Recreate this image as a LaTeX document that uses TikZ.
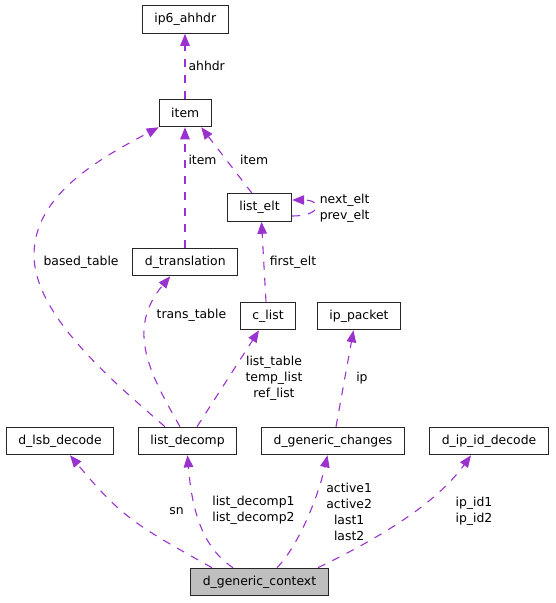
\documentclass[tikz,border=0pt]{standalone}
\usepackage{fontspec}
\setmainfont{DejaVu Sans}
\usetikzlibrary{arrows.meta,positioning}
\definecolor{relcol}{HTML}{9A32CD}
\definecolor{boxgray}{HTML}{BFBFBF}

\begin{document}
\begin{tikzpicture}[x=1pt,y=-1pt,on grid,
  cls/.style={draw=black!85,line width=1.1pt,minimum height=27.5pt,inner xsep=12pt,font=\fontsize{12.4}{16}\selectfont},
  rel/.style={draw=relcol,line width=1.1pt,dash pattern=on 8pt off 8pt,-{Triangle[length=12pt,width=9.5pt]}},
  lbl/.style={font=\fontsize{12.4}{16}\selectfont,inner sep=3pt,align=center}]
  \useasboundingbox (0,0) rectangle (555,603);
  \node[cls] (item) at (185.25,113) {item};
  \node[cls] (ip6) [above=93.5pt of item] {ip6\_ahhdr};
  \node[cls] (transl) [below=149pt of item] {d\_translation};
  \node[cls] (listelt) [below right=94.5pt and 74.25pt of item] {list\_elt};
  \node[cls] (clist) [below right=108.5pt and 8.5pt of listelt] {c\_list};
  \node[cls] (ippacket) [right=91pt of clist] {ip\_packet};
  \node[cls] (listdecomp) [below left=125pt and 80.5pt of clist] {list\_decomp};
  \node[cls] (lsb) [left=127.5pt of listdecomp] {d\_lsb\_decode};
  \node[cls] (changes) [right=145.5pt of listdecomp] {d\_generic\_changes};
  \node[cls] (ipid) [right=156pt of changes] {d\_ip\_id\_decode};
  \node[cls,fill=boxgray] (context) [below right=141pt and 72pt of listdecomp] {d\_generic\_context};

  \draw[rel] ([xshift=-0.25pt]item.north) -- ([xshift=-0.25pt]ip6.south) node[lbl,midway,right] {ahhdr};
  \draw[rel] ([xshift=-0.25pt]transl.north) -- ([xshift=-0.25pt]item.south) node[lbl,pos=0.726,right] {item};
  \draw[rel] ([xshift=-7.5pt]listelt.north) -- ([xshift=16pt]item.south)
    node[lbl,pos=0.5,right=10pt] {item};
  \draw[rel] ([yshift=-8.5pt]listelt.east) .. controls +(30,0) and +(30,0) .. ([yshift=7.5pt]listelt.east)
    node[lbl,pos=0.5,right=1.5pt] {next\_elt\\prev\_elt};
  \draw[rel] ([xshift=-2pt]clist.north) -- ([xshift=2pt]listelt.south)
    node[lbl,midway,right=2.5pt] {first\_elt};
  \draw[rel] ([xshift=-22.5pt]listdecomp.north) .. controls (112.5,381) and (34,315) .. (34,255)
    node[lbl,right=6pt,yshift=-7pt] {based\_table}
    .. controls (34,195) and (98.8,159) .. (item.south west);
  \draw[rel] ([xshift=-7.5pt]listdecomp.north) .. controls (150.6,374.8) and (125.2,329.9) .. ([xshift=-15pt]transl.south)
    node[lbl,pos=0.75,right=4.5pt] {trans\_table};
  \draw[rel] ([xshift=9.5pt]listdecomp.north) -- ([xshift=-9pt]clist.south)
    node[lbl,midway,right=14pt] {list\_table\\temp\_list\\ref\_list};
  \draw[rel] ([xshift=3pt]changes.north) -- ([xshift=-5.5pt]ippacket.south)
    node[lbl,midway,right=8pt] {ip};
  \draw[rel] ([xshift=-47.5pt]context.north) .. controls (133.7,524) and (121.2,516.6) .. ([xshift=10pt]lsb.south)
    node[lbl,pos=0.58,right=44pt] {sn};
  \draw[rel] ([xshift=-26.5pt]context.north) .. controls (200.2,546.2) and (191.5,505) .. (listdecomp.south)
    node[lbl,pos=0.6,right=13pt] {list\_decomp1\\list\_decomp2};
  \draw[rel] ([xshift=17.5pt]context.north) .. controls (297.4,547.1) and (317.6,499.1) .. ([xshift=-5.5pt]changes.south)
    node[lbl,pos=0.57,right=13pt] {active1\\active2\\last1\\last2};
  \draw[rel] ([xshift=58.5pt]context.north) .. controls (380.3,537.5) and (436.2,503.6) .. ([xshift=-18pt]ipid.south)
    node[lbl,pos=0.56,right=38pt] {ip\_id1\\ip\_id2};
\end{tikzpicture}
\end{document}
